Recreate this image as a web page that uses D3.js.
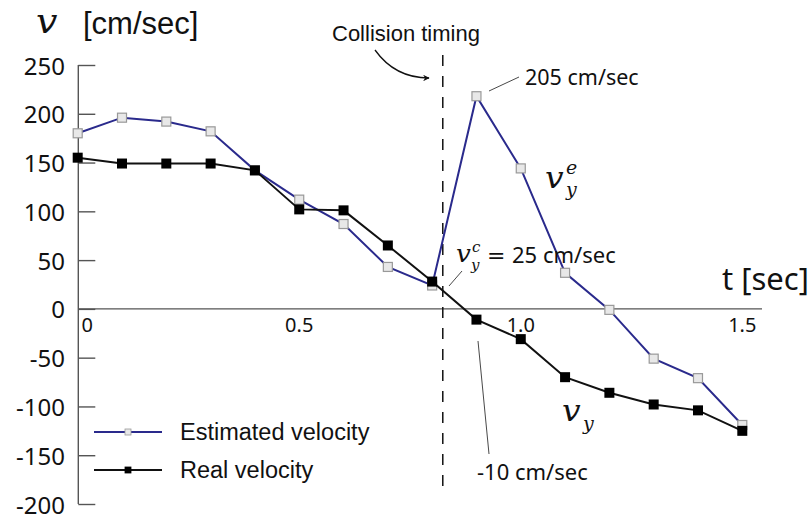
<!DOCTYPE html>
<html>
<head>
<meta charset="utf-8">
<script src="https://cdn.jsdelivr.net/npm/d3@7"></script>
<style>
body { margin: 0; background: #fff; }
svg { display: block; }
</style>
</head>
<body>
<script>
var times = [0, 0.1, 0.2, 0.3, 0.4, 0.5, 0.6, 0.7, 0.8, 0.9, 1.0, 1.1, 1.2, 1.3, 1.4, 1.5];
var estimated = [180, 196, 192, 182, 142, 112, 87, 43, 24, 218, 144, 37, -1, -51, -71, -119];
var real = [155, 149, 149, 149, 142, 102, 101, 65, 28, -11, -31, -70, -86, -98, -104, -125];
var yTicks = [250, 200, 150, 100, 50, 0, -50, -100, -150, -200];
var xTicks = [0, 0.5, 1.0, 1.5];
var xTickLabels = ["0", "0.5", "1.0", "1.5"];
var collisionT = 0.824;

var width = 812, height = 519;
var blue = "#2a2a8c";

var x = d3.scaleLinear().domain([0, 1.5]).range([77.7, 742.3]);
var y = d3.scaleLinear().domain([-200, 250]).range([504, 65]);

var svg = d3.select("body").append("svg")
	.attr("width", width)
	.attr("height", height);

// axes
var leftAxis = d3.axisRight(y).tickValues(yTicks).tickSize(17).tickFormat("");
var ga = svg.append("g")
	.attr("transform", "translate(78.3,0)")
	.call(leftAxis);
ga.select(".domain").attr("stroke", "#555").attr("stroke-width", 1.4).attr("d", "M0,65V504");
ga.selectAll(".tick line").attr("stroke", "#555").attr("stroke-width", 1.4);

svg.append("g").selectAll("text")
	.data(yTicks)
	.enter().append("text")
	.attr("x", 65)
	.attr("y", (d) => y(d) + 9.5)
	.attr("text-anchor", "end")
	.attr("font-family", "Noto Sans")
	.attr("font-size", "24px")
	.attr("fill", "#111")
	.text((d) => d);

svg.append("line")
	.attr("x1", 78).attr("x2", 762)
	.attr("y1", y(0)).attr("y2", y(0))
	.attr("stroke", "#555").attr("stroke-width", 1.4);

svg.append("g").selectAll("text")
	.data(xTicks)
	.enter().append("text")
	.attr("x", (d, i) => i == 0 ? x(d) + 9.5 : x(d))
	.attr("y", 332)
	.attr("text-anchor", "middle")
	.attr("font-family", "Noto Sans")
	.attr("font-size", "20px")
	.attr("fill", "#111")
	.text((d, i) => xTickLabels[i]);

// collision line
svg.append("line")
	.attr("x1", x(collisionT)).attr("x2", x(collisionT))
	.attr("y1", 55).attr("y2", 493)
	.attr("stroke", "#111").attr("stroke-width", 1.5)
	.attr("stroke-dasharray", "11,10");

// series
var line = d3.line().x((d) => x(d[0])).y((d) => y(d[1]));
var estPts = times.map((t, i) => [t, estimated[i]]);
var realPts = times.map((t, i) => [t, real[i]]);

svg.append("path").datum(estPts)
	.attr("d", line).attr("fill", "none")
	.attr("stroke", blue).attr("stroke-width", 2);
svg.append("g").selectAll("rect").data(estPts).enter().append("rect")
	.attr("x", (d) => x(d[0]) - 4.5).attr("y", (d) => y(d[1]) - 4.5)
	.attr("width", 9).attr("height", 9)
	.attr("fill", "#e8e8e8").attr("stroke", "#999").attr("stroke-width", 1.2);

svg.append("path").datum(realPts)
	.attr("d", line).attr("fill", "none")
	.attr("stroke", "#111").attr("stroke-width", 2);
svg.append("g").selectAll("rect").data(realPts).enter().append("rect")
	.attr("x", (d) => x(d[0]) - 5).attr("y", (d) => y(d[1]) - 5)
	.attr("width", 10).attr("height", 10)
	.attr("fill", "#000");

// math italic helper
var math = (tx, ty, size, str) => svg.append("text")
	.attr("x", tx).attr("y", ty)
	.attr("font-family", "DejaVu Serif").attr("font-style", "italic")
	.attr("font-size", size).attr("fill", "#111")
	.text(str);

// titles
math(0, 0, "33px", "v").attr("transform", "translate(36,33) scale(1.15,1)");
svg.append("text")
	.attr("x", 83).attr("y", 33.5)
	.attr("font-family", "Liberation Sans")
	.attr("font-size", "31px").attr("fill", "#111")
	.text("[cm/sec]");
svg.append("text")
	.attr("x", 722).attr("y", 290)
	.attr("font-family", "Noto Sans")
	.attr("font-size", "31px").attr("fill", "#111")
	.text("t [sec]");

// collision annotation
svg.append("text")
	.attr("x", 332).attr("y", 41)
	.attr("font-family", "Liberation Sans")
	.attr("font-size", "22px").attr("fill", "#111")
	.text("Collision timing");
svg.append("defs").append("marker")
	.attr("id", "arr").attr("viewBox", "0 0 10 10")
	.attr("refX", 9).attr("refY", 5)
	.attr("markerWidth", 5).attr("markerHeight", 5)
	.attr("orient", "auto")
	.append("path").attr("d", "M0,0L10,5L0,10L3,5Z").attr("fill", "#111");
svg.append("path")
	.attr("d", "M375,50Q395,78 429,78")
	.attr("fill", "none").attr("stroke", "#111").attr("stroke-width", 1.3)
	.attr("marker-end", "url(#arr)");

// peak annotation
svg.append("line")
	.attr("x1", 489).attr("y1", 91).attr("x2", 519).attr("y2", 77)
	.attr("stroke", "#333").attr("stroke-width", 0.9);
svg.append("text")
	.attr("x", 525).attr("y", 85)
	.attr("font-family", "Noto Sans")
	.attr("font-size", "21.5px").attr("fill", "#111")
	.text("205 cm/sec");

// v_y^c annotation
svg.append("line")
	.attr("x1", 449).attr("y1", 286).attr("x2", 462).attr("y2", 271)
	.attr("stroke", "#333").attr("stroke-width", 0.9);
math(0, 0, "24px", "v").attr("transform", "translate(456,262) scale(1.1,1)");
math(472, 252, "15px", "c");
math(471, 270, "15px", "y");
svg.append("text")
	.attr("x", 487).attr("y", 263)
	.attr("font-family", "DejaVu Serif")
	.attr("font-size", "22px").attr("fill", "#111")
	.text("=");
svg.append("text")
	.attr("x", 512).attr("y", 263)
	.attr("font-family", "Noto Sans")
	.attr("font-size", "22px").attr("fill", "#111")
	.text("25 cm/sec");

// -10 annotation
svg.append("line")
	.attr("x1", 478).attr("y1", 341).attr("x2", 489).attr("y2", 454)
	.attr("stroke", "#333").attr("stroke-width", 0.9);
svg.append("text")
	.attr("x", 477).attr("y", 480)
	.attr("font-family", "Noto Sans")
	.attr("font-size", "22px").attr("fill", "#111")
	.text("-10 cm/sec");

// series labels
math(0, 0, "30px", "v").attr("transform", "translate(545,188) scale(1.1,1)");
math(566, 174, "19px", "e");
math(566, 196, "19px", "y");
math(0, 0, "30px", "v").attr("transform", "translate(562,421) scale(1.1,1)");
math(583, 430, "19px", "y");

// legend
var legend = [
	{name: "Estimated velocity", color: blue, fill: "#e8e8e8", stroke: "#999", ly: 432},
	{name: "Real velocity", color: "#111", fill: "#000", stroke: "#000", ly: 470}
];
var lg = svg.append("g").selectAll("g").data(legend).enter().append("g");
lg.append("line")
	.attr("x1", 94).attr("x2", 162)
	.attr("y1", (d) => d.ly).attr("y2", (d) => d.ly)
	.attr("stroke", (d) => d.color).attr("stroke-width", 2);
lg.append("rect")
	.attr("x", 125).attr("y", (d) => d.ly - 3)
	.attr("width", 6).attr("height", 6)
	.attr("fill", (d) => d.fill).attr("stroke", (d) => d.stroke).attr("stroke-width", 0.8);
lg.append("text")
	.attr("x", 180).attr("y", (d) => d.ly + 8)
	.attr("font-family", "Liberation Sans")
	.attr("font-size", "23.5px").attr("fill", "#111")
	.text((d) => d.name);
</script>
</body>
</html>
